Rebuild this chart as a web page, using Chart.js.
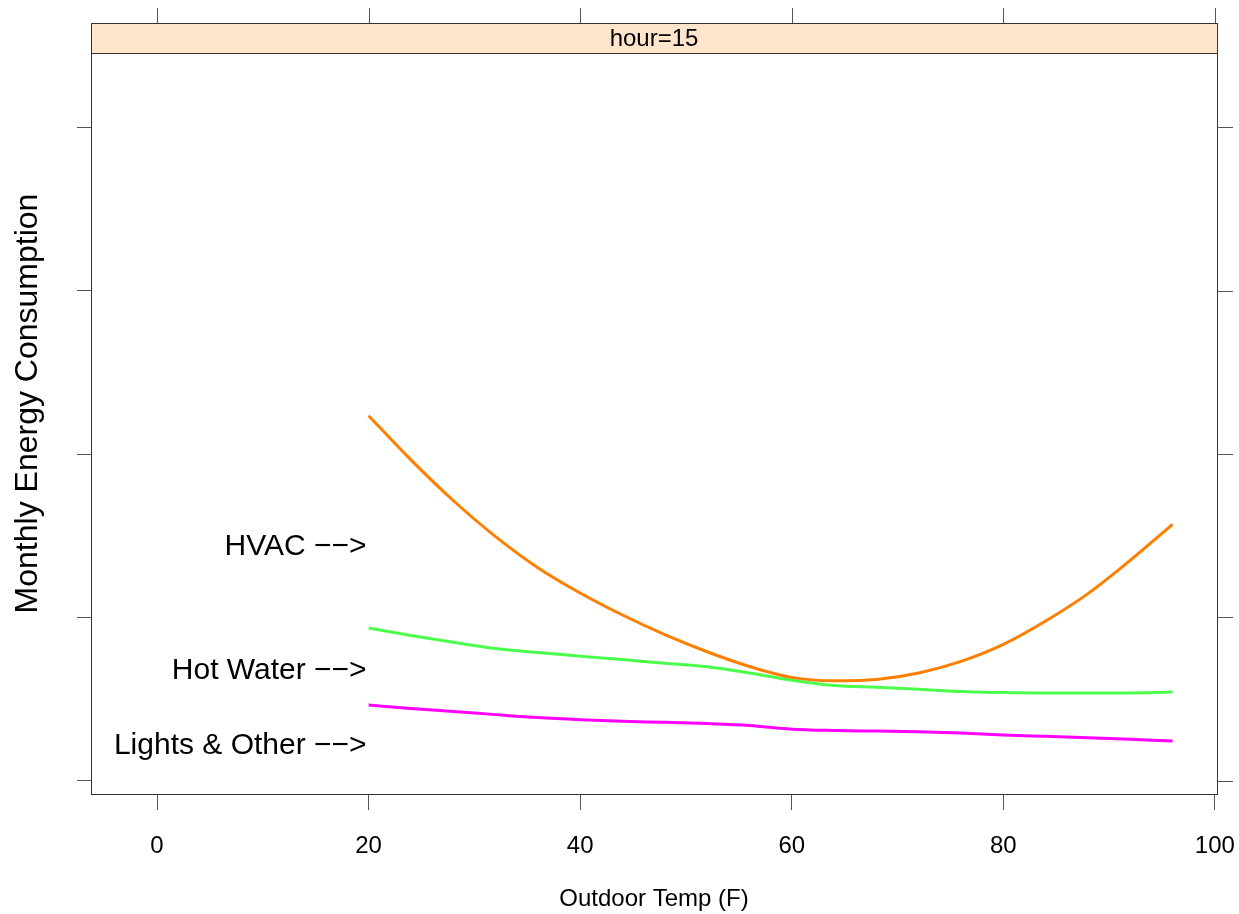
<!DOCTYPE html>
<html>
<head>
<meta charset="utf-8">
<script src="https://cdn.jsdelivr.net/npm/chart.js@4.4.1/dist/chart.umd.min.js"></script>
<style>
  html, body { margin: 0; padding: 0; background: #fff; }
  #wrap { width: 1239px; height: 914px; position: relative; }
</style>
</head>
<body>
<div id="wrap"><canvas id="chart"></canvas></div>
<script>
// --- data (y in arbitrary units, ticks unlabeled) ---
const temps = [20, 24, 28, 32, 36, 40, 44, 48, 52, 56, 60, 64, 68, 72, 76, 80, 84, 88, 92, 96];
const hvac = [2.235, 1.965, 1.716, 1.495, 1.305, 1.15, 1.015, 0.895, 0.79, 0.70, 0.633, 0.612, 0.62, 0.66, 0.731, 0.835, 0.978, 1.146, 1.35, 1.57];
const hotWater = [0.935, 0.89, 0.848, 0.81, 0.785, 0.763, 0.742, 0.719, 0.698, 0.66, 0.615, 0.583, 0.573, 0.561, 0.546, 0.54, 0.537, 0.537, 0.538, 0.543];
const lights = [0.464, 0.442, 0.424, 0.405, 0.387, 0.374, 0.364, 0.358, 0.35, 0.338, 0.316, 0.308, 0.304, 0.3, 0.292, 0.28, 0.272, 0.264, 0.254, 0.243];

const seriesNames = ["HVAC", "Hot Water", "Lights & Other"];
const seriesColors = ["#FF7F00", "#4DFF4D", "#FF00FF"];
const labelX = 20;
const labelY = [1.43, 0.672, 0.213];
const xTicks = [0, 20, 40, 60, 80, 100];
const yTicks = [0, 1, 2, 3, 4];
const panelLabel = "hour=15";
const yTitle = "Monthly Energy Consumption";

const FONT = "'Liberation Sans', Arial, Helvetica, sans-serif";
const FRAME = "#333";

// strip, outer frame, top/right ticks, y title and the in-panel labels
const latticeDecor = {
  id: "latticeDecor",
  afterDraw(chart) {
    const { ctx, chartArea: a, scales } = chart;
    const sx = scales.x, sy = scales.y;
    const stripTop = 23;
    ctx.save();
    // strip
    ctx.fillStyle = "#FFE5CC";
    ctx.fillRect(a.left, stripTop, a.right - a.left, a.top - stripTop);
    ctx.strokeStyle = FRAME;
    ctx.lineWidth = 1;
    ctx.strokeRect(a.left + 0.5, stripTop + 0.5, a.right - a.left, a.top - stripTop);
    ctx.strokeRect(a.left + 0.5, a.top + 0.5, a.right - a.left, a.bottom - a.top);
    ctx.fillStyle = "#000";
    ctx.font = "24px " + FONT;
    ctx.textAlign = "center";
    ctx.textBaseline = "middle";
    ctx.fillText(panelLabel, (a.left + a.right) / 2, (stripTop + a.top) / 2 + 1);
    // top ticks
    ctx.strokeStyle = "#555";
    ctx.beginPath();
    xTicks.forEach(v => {
      const px = Math.round(sx.getPixelForValue(v)) + 0.5;
      ctx.moveTo(px, stripTop);
      ctx.lineTo(px, stripTop - 15);
    });
    // right ticks
    yTicks.forEach(v => {
      const py = Math.round(sy.getPixelForValue(v)) + 0.5;
      ctx.moveTo(a.right, py);
      ctx.lineTo(a.right + 16, py);
    });
    ctx.stroke();
    // y title, centred on panel + strip like lattice
    ctx.save();
    ctx.translate(28, (stripTop + a.bottom) / 2 - 5);
    ctx.rotate(-Math.PI / 2);
    ctx.font = "32px " + FONT;
    ctx.textAlign = "center";
    ctx.textBaseline = "middle";
    ctx.fillText(yTitle, 0, 0);
    ctx.restore();
    // series labels
    ctx.fillStyle = "#000";
    ctx.font = "30px " + FONT;
    ctx.textAlign = "right";
    ctx.textBaseline = "middle";
    seriesNames.forEach((name, i) => {
      ctx.fillText(name + " \u2212\u2212>", sx.getPixelForValue(labelX) - 2, sy.getPixelForValue(labelY[i]));
    });
    ctx.restore();
  }
};

const series = [hvac, hotWater, lights];

new Chart(document.getElementById("chart"), {
  type: "line",
  data: {
    datasets: series.map((vals, i) => ({
      label: seriesNames[i],
      data: temps.map((t, j) => ({ x: t, y: vals[j] })),
      borderColor: seriesColors[i],
      borderWidth: 3,
      pointRadius: 0,
      cubicInterpolationMode: "monotone",
      fill: false
    }))
  },
  options: {
    responsive: true,
    maintainAspectRatio: false,
    animation: false,
    layout: { padding: { top: 53, right: 22, left: 0, bottom: 0 } },
    plugins: { legend: { display: false }, tooltip: { enabled: false } },
    scales: {
      x: {
        type: "linear",
        min: -6.24,
        max: 100.2,
        afterBuildTicks: s => { s.ticks = xTicks.map(v => ({ value: v })); },
        afterFit: s => { s.height = 120; s.paddingLeft = 0; s.paddingRight = 0; },
        grid: { display: true, drawOnChartArea: false, drawTicks: true, tickLength: 16, color: "#555" },
        border: { display: true, color: FRAME, width: 1 },
        ticks: { color: "#000", font: { family: FONT, size: 24 }, padding: 22, maxRotation: 0 },
        title: { display: true, text: "Outdoor Temp (F)", color: "#000", font: { family: FONT, size: 24 }, padding: { top: 0, bottom: 0 } }
      },
      y: {
        type: "linear",
        min: -0.081,
        max: 4.456,
        afterBuildTicks: s => { s.ticks = yTicks.map(v => ({ value: v })); },
        afterFit: s => { s.width = 91; s.paddingTop = 0; s.paddingBottom = 0; },
        grid: { display: true, drawOnChartArea: false, drawTicks: true, tickLength: 14, color: "#555" },
        border: { display: true, color: FRAME, width: 1 },
        ticks: { display: false }
      }
    }
  },
  plugins: [latticeDecor]
});
</script>
</body>
</html>
